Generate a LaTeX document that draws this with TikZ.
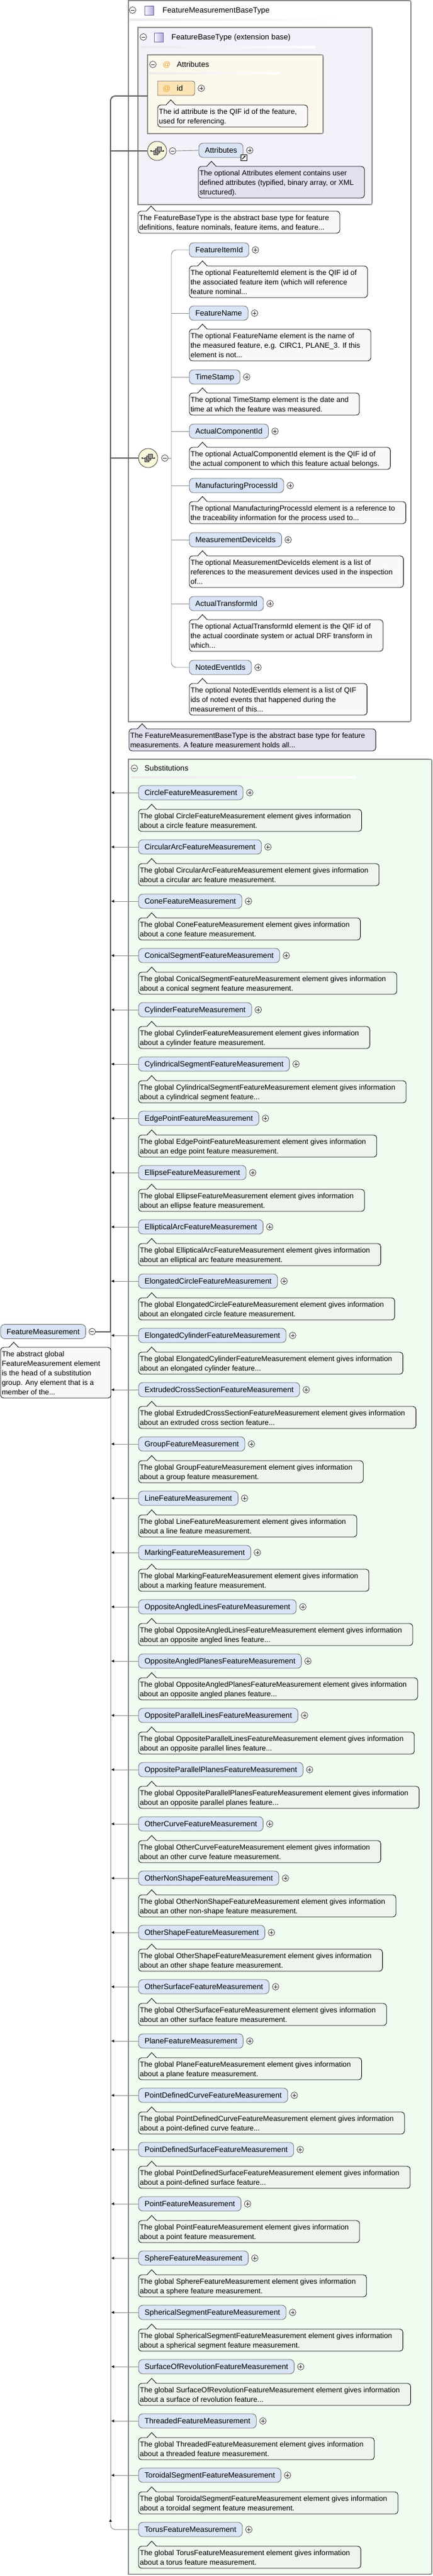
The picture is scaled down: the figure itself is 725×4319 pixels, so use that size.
\documentclass[tikz,border=0pt]{standalone}
\usepackage{fontspec}
\setmainfont{Liberation Sans}
\usetikzlibrary{arrows.meta}
\definecolor{boxgray}{HTML}{8A8A8A}
\definecolor{thickc}{HTML}{5F5F5F}
\definecolor{thinc}{HTML}{8C8C8C}
\definecolor{elemfill}{HTML}{D9E4F6}
\definecolor{elemdraw}{HTML}{6A6A6A}
\definecolor{callfill}{HTML}{F8F8F8}
\definecolor{subcallfill}{HTML}{EEF4EE}
\definecolor{lavfill}{HTML}{E4DFEE}
\definecolor{basefill}{HTML}{F3F1F9}
\definecolor{attrfill}{HTML}{FDF8EC}
\definecolor{subfill}{HTML}{F1FCF1}
\definecolor{idfill}{HTML}{FDE4B6}
\definecolor{compfill}{HTML}{FAF8DA}
\definecolor{atorange}{HTML}{E8A02C}
\definecolor{iconpurple}{HTML}{B4A6DA}
\definecolor{icondraw}{HTML}{7B6BAE}
\newcommand\nfont{\fontsize{12.8pt}{15pt}\selectfont}
\newcommand\cfont{\fontsize{12.3pt}{16pt}\selectfont}
\newcommand\dd{...}
\newcommand\cl[1]{\hbox{\rule[-3pt]{0pt}{16pt}\hspace*{2pt}#1\hspace*{18pt}}}
\newcommand\cb[1]{\vbox{\offinterlineskip#1}}
\newcommand\rbox[6]{\path[#1] (#2,#3) -- ({#4-#6},#3) .. controls (#4,#3) .. (#4,{#3+#6}) -- (#4,{#5-#6}) .. controls (#4,#5) .. ({#4-#6},#5) -- (#2,#5) -- cycle;}
\newcommand\ptr[2]{%
 \fill[#2] ([xshift=13.5pt,yshift=-1.3pt]#1.north west) -- ([xshift=13.5pt]#1.north west) -- ([xshift=22pt,yshift=8.5pt]#1.north west) -- ([xshift=30.5pt]#1.north west) -- ([xshift=30.5pt,yshift=-1.3pt]#1.north west) -- cycle;
 \draw[line width=0.8pt] ([xshift=14pt]#1.north west) -- ([xshift=22pt,yshift=8.5pt]#1.north west) -- ([xshift=30pt]#1.north west);}
\newcommand\gline[3]{\shade[left color=black!8, middle color=black!55, right color=white] (#1,{#3-1.2}) rectangle (#2,{#3+1.2});}
\newcommand\typeicon[2]{\shade[left color=white, right color=iconpurple] (#1,#2) rectangle ({#1+15},{#2+15}); \draw[icondraw, line width=0.8pt] (#1,#2) rectangle ({#1+15},{#2+15});}
\newcommand\seqicon[2]{%
 \draw[black!80,line width=0.8pt] ({#1-11},#2) -- ({#1+9},#2);
 \fill[black] ({#1-12},{#2-1.2}) rectangle ({#1-9.6},{#2+1.2});
 \fill[black] ({#1+8.5},{#2-1.6}) -- ({#1+11},#2) -- ({#1+8.5},{#2+1.6}) -- cycle;
 \filldraw[fill=black!40,draw=black!75,line width=0.6pt] ({#1-7},{#2-1}) rectangle ({#1},{#2+6});
 \filldraw[fill=black!40,draw=black!75,line width=0.6pt] ({#1-4},{#2-4}) rectangle ({#1+3},{#2+3});
 \filldraw[fill=black!40,draw=black!75,line width=0.6pt] ({#1-1},{#2-7}) rectangle ({#1+6},{#2});}
\begin{document}
\begin{tikzpicture}[x=1pt,y=-1pt,
  elem/.style={draw=elemdraw, fill=elemfill, rounded corners=7pt, font=\nfont, inner xsep=10pt, inner ysep=0pt, minimum height=24pt, text height=9.2pt, text depth=0pt, anchor=west, outer sep=0pt, line width=0.8pt},
  callout/.style={draw=black, fill=callfill, rounded corners=5pt, inner xsep=0pt, inner ysep=2.5pt, anchor=north west, font=\cfont, outer sep=0pt, line width=0.8pt},
  htext/.style={anchor=west, font=\nfont, text height=9.2pt, text depth=0pt, inner sep=0pt},
  comp/.style={circle, draw=black!75, fill=compfill, minimum size=32pt, inner sep=0pt, line width=0.8pt},
  plusc/.style={circle, draw=black!80, fill=white, minimum size=11pt, inner sep=0pt, line width=0.7pt, outer sep=0pt,
    path picture={\draw[line width=0.7pt] ([xshift=-3pt]path picture bounding box.center) -- ([xshift=3pt]path picture bounding box.center) ([yshift=-3pt]path picture bounding box.center) -- ([yshift=3pt]path picture bounding box.center);}},
  minusc/.style={circle, draw=black!80, fill=white, minimum size=11pt, inner sep=0pt, line width=0.7pt, outer sep=0pt,
    path picture={\draw[line width=0.7pt] ([xshift=-3pt]path picture bounding box.center) -- ([xshift=3pt]path picture bounding box.center);}},
  thickline/.style={line width=2pt, draw=thickc},
  thinline/.style={line width=0.9pt, draw=thinc},
  subarr/.style={line width=0.9pt, draw=thinc, -{Latex[length=5pt,width=5pt,color=black]}}
]
\useasboundingbox (0,0) rectangle (725,4319);
\fill[white] (0,0) rectangle (725,4319);

% ---------- boxes ----------
\rbox{fill=white,draw=boxgray,line width=1.6pt}{215}{1}{688}{1210}{5}
\rbox{fill=basefill,draw=boxgray,line width=1.6pt}{231}{46}{623}{343}{5}
\rbox{fill=attrfill,draw=boxgray,line width=1.6pt}{247}{92}{541}{224}{5}
\rbox{fill=subfill,draw=boxgray,line width=1.6pt}{215}{1273}{723}{4316}{5}

% ---------- headers ----------
\node[minusc] (hm1) at (222,17) {};
\typeicon{242}{10}
\node[htext] (h1) at (272,17) {FeatureMeasurementBaseType};
\gline{217}{574}{33}

\node[minusc] (hm2) at (240,62) {};
\typeicon{258}{55}
\node[htext] (h2) at (287,62) {FeatureBaseType (extension base)};
\gline{234}{528}{79}

\node[minusc] (hm3) at (256,108) {};
\node[font=\nfont, text=atorange, inner sep=0pt] (hat) at (279,109) {@};
\node[htext] (h3) at (296,108) {Attributes};
\gline{250}{468}{123}

\node[minusc] (hm4) at (225,1288) {};
\node[htext] (h4) at (242,1288) {Substitutions};
\gline{220}{597}{1303}

% ---------- id attribute ----------
\rbox{fill=idfill,draw=elemdraw,line width=0.8pt}{264}{136}{326}{160}{8}
\node[font=\nfont, text=atorange, inner sep=0pt] (idat) at (279,149) {@};
\node[htext] (idtxt) at (296,148) {id};
\node[plusc] (idp) at (337,148) {};
\node[callout] (cid) at (264,176) {\cb{\cl{The id attribute is the QIF id of the feature,}\cl{used for referencing.}}};
\ptr{cid}{callfill}

% ---------- Attributes element ----------
\node[comp] (comp1) at (263,253) {};
\seqicon{264}{253}
\node[minusc] (c1m) at (289,253) {};
\node[elem] (attrel) at (333,252) {Attributes};
\node[plusc] (attrp) at ([xshift=11pt]attrel.east) {};
\filldraw[fill=white,draw=black,line width=0.8pt] (403,259) rectangle (413,269);
\draw[line width=1pt, -{Stealth[length=3.5pt,width=3.5pt]}] (405.5,267) -- (411,261);
\draw[thinline] (c1m.east) -- (attrel.west);
\node[callout, fill=lavfill] (cattr) at (332,279) {\cb{\cl{The optional Attributes element contains user}\cl{defined attributes (typified, binary array, or XML}\cl{structured).}}};
\ptr{cattr}{lavfill}

\node[callout] (cfbt) at (231,354) {\cb{\cl{The FeatureBaseType is the abstract base type for feature}\cl{definitions, feature nominals, feature items, and feature\dd}}};
\ptr{cfbt}{callfill}

% ---------- sequence of measurement elements ----------
\node[comp] (comp2) at (248,768) {};
\seqicon{249}{768}
\node[minusc] (c2m) at (276,768) {};
\coordinate (seqx) at (287,0);

\node[elem] (e1) at (317,419) {FeatureItemId};
\node[callout] (ce1) at (317,446) {\cb{\cl{The optional FeatureItemId element is the QIF id of}\cl{the associated feature item (which will reference}\cl{feature nominal\dd}}};
\node[elem] (e2) at (317,525) {FeatureName};
\node[callout] (ce2) at (317,552) {\cb{\cl{The optional FeatureName element is the name of}\cl{the measured feature, e.g. CIRC1, PLANE\_3. If this}\cl{element is not\dd}}};
\node[elem] (e3) at (317,632) {TimeStamp};
\node[callout] (ce3) at (317,659) {\cb{\cl{The optional TimeStamp element is the date and}\cl{time at which the feature was measured.}}};
\node[elem] (e4) at (317,723) {ActualComponentId};
\node[callout] (ce4) at (317,750) {\cb{\cl{The optional ActualComponentId element is the QIF id of}\cl{the actual component to which this feature actual belongs.}}};
\node[elem] (e5) at (317,814) {ManufacturingProcessId};
\node[callout] (ce5) at (317,841) {\cb{\cl{The optional ManufacturingProcessId element is a reference to}\cl{the traceability information for the process used to\dd}}};
\node[elem] (e6) at (317,905) {MeasurementDeviceIds};
\node[callout] (ce6) at (317,932) {\cb{\cl{The optional MeasurementDeviceIds element is a list of}\cl{references to the measurement devices used in the inspection}\cl{of\dd}}};
\node[elem] (e7) at (317,1012) {ActualTransformId};
\node[callout] (ce7) at (317,1039) {\cb{\cl{The optional ActualTransformId element is the QIF id of}\cl{the actual coordinate system or actual DRF transform in}\cl{which\dd}}};
\node[elem] (e8) at (317,1119) {NotedEventIds};
\node[callout] (ce8) at (317,1146) {\cb{\cl{The optional NotedEventIds element is a list of QIF}\cl{ids of noted events that happened during the}\cl{measurement of this\dd}}};
\foreach \k in {1,2,3,4,5,6,7,8}{
  \node[plusc] (ep\k) at ([xshift=11pt]e\k.east) {};
  \ptr{ce\k}{callfill}
}
\draw[thinline] (c2m.east) -- (c2m.east -| seqx);
\draw[thinline, rounded corners=8pt] (e1.west) -- (e1.west -| seqx) -- (e8.west -| seqx) -- (e8.west);
\foreach \k in {2,3,4,5,6,7}{
  \draw[thinline] (e\k.west -| seqx) -- (e\k.west);
}

\node[callout, fill=lavfill] (cfmbt) at (216,1222) {\cb{\cl{The FeatureMeasurementBaseType is the abstract base type for feature}\cl{measurements. A feature measurement holds all\dd}}};
\ptr{cfmbt}{lavfill}

% ---------- substitutions ----------
\coordinate (spine) at (186,0);
\coordinate (spine0) at (185,0);
\coordinate (spineend) at (185,4223);
\coordinate (spinetop) at (185,1329);
\draw[thinline] (spinetop) -- (spineend);
\foreach \nm/\lb [count=\i] in {
Circle/about a circle feature measurement.,
CircularArc/about a circular arc feature measurement.,
Cone/about a cone feature measurement.,
ConicalSegment/about a conical segment feature measurement.,
Cylinder/about a cylinder feature measurement.,
CylindricalSegment/about a cylindrical segment feature\dd,
EdgePoint/about an edge point feature measurement.,
Ellipse/about an ellipse feature measurement.,
EllipticalArc/about an elliptical arc feature measurement.,
ElongatedCircle/about an elongated circle feature measurement.,
ElongatedCylinder/about an elongated cylinder feature\dd,
ExtrudedCrossSection/about an extruded cross section feature\dd,
Group/about a group feature measurement.,
Line/about a line feature measurement.,
Marking/about a marking feature measurement.,
OppositeAngledLines/about an opposite angled lines feature\dd,
OppositeAngledPlanes/about an opposite angled planes feature\dd,
OppositeParallelLines/about an opposite parallel lines feature\dd,
OppositeParallelPlanes/about an opposite parallel planes feature\dd,
OtherCurve/about an other curve feature measurement.,
OtherNonShape/about an other non-shape feature measurement.,
OtherShape/about an other shape feature measurement.,
OtherSurface/about an other surface feature measurement.,
Plane/about a plane feature measurement.,
PointDefinedCurve/about a point-defined curve feature\dd,
PointDefinedSurface/about a point-defined surface feature\dd,
Point/about a point feature measurement.,
Sphere/about a sphere feature measurement.,
SphericalSegment/about a spherical segment feature measurement.,
SurfaceOfRevolution/about a surface of revolution feature\dd,
Threaded/about a threaded feature measurement.,
ToroidalSegment/about a toroidal segment feature measurement.,
Torus/about a torus feature measurement.}{
  \pgfmathsetmacro\cy{1329+91*(\i-1)}
  \node[elem] (s\i) at (232,\cy) {\nm FeatureMeasurement};
  \node[plusc] (sp\i) at ([xshift=11pt]s\i.east) {};
  \node[callout, fill=subcallfill] (cs\i) at (232,{\cy+28}) {\cb{\cl{The global \nm FeatureMeasurement element gives information}\cl{\lb}}};
  \ptr{cs\i}{subcallfill}
  \ifnum\i<33
    \draw[subarr] (s\i.west) -- (s\i.west -| spine);
  \else
    \draw[subarr, rounded corners=8pt] (s\i.west) -- (s\i.west -| spine0) -- (spineend);
  \fi
}

% ---------- FeatureMeasurement global element ----------
\node[elem] (fm) at (1,2232.5) {FeatureMeasurement};
\node[minusc] (fmm) at ([xshift=11pt]fm.east) {};
\node[callout] (cfm) at (1,2259) {\cb{\cl{The abstract global}\cl{FeatureMeasurement element}\cl{is the head of a substitution}\cl{group. Any element that is a}\cl{member of the\dd}}};
\ptr{cfm}{callfill}

\coordinate (attrin) at (247,161);
\draw[thickline] (fmm.east) -- (fm.east -| spine0);
\draw[thickline, rounded corners=8pt] ([yshift=-1pt]fm.east -| spine0) -- (attrin -| spine0) -- (attrin);
\draw[thickline] (comp1.west -| spine0) -- (comp1.west);
\draw[thickline] (comp2.west -| spine0) -- (comp2.west);
\end{tikzpicture}
\end{document}
